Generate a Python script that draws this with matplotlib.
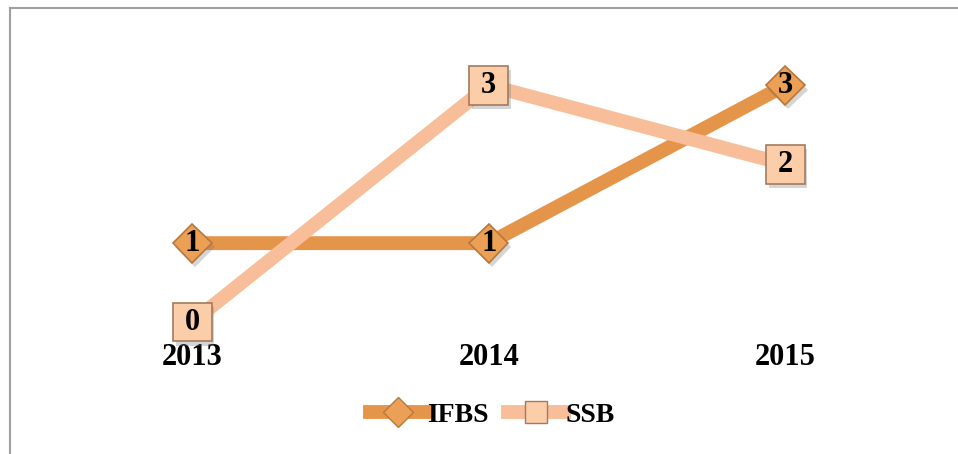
import matplotlib
matplotlib.use("Agg")
from matplotlib import pyplot as plt
from matplotlib.lines import Line2D
import matplotlib.patheffects as pe

years = ["2013", "2014", "2015"]
ifbs = [1, 1, 3]
ssb = [0, 3, 2]

c_ifbs = "#E5954A"
c_ssb = "#F8BE99"

plt.rcParams["font.family"] = ["Liberation Serif", "DejaVu Serif"]
plt.rcParams["font.weight"] = "bold"

fig = plt.figure(figsize=(9.58, 4.54), dpi=100)
ax = fig.add_axes([0.0459, 0.2385, 0.9285, 0.6256])

x = list(range(len(years)))
shadow = [pe.SimplePatchShadow(offset=(2, -3), alpha=0.3, shadow_rgbFace="#777777"), pe.Normal()]

ax.plot(x, ifbs, color=c_ifbs, lw=10, solid_capstyle="butt", zorder=2)
ax.plot(x, ssb, color=c_ssb, lw=10, solid_capstyle="butt", zorder=2)
ax.plot(x, ifbs, ls="none", marker="D", ms=20, mfc="#EBA055", mec="#B9773B", mew=1.2,
        zorder=3, path_effects=shadow)
ax.plot(x, ssb, ls="none", marker="s", ms=28, mfc="#FCCDA9", mec="#A27B5E", mew=1.2,
        zorder=3, path_effects=shadow)

for xi, v in zip(x, ifbs):
    ax.text(xi, v, str(v), ha="center", va="center", fontsize=22, fontweight="bold", zorder=4)
for xi, v in zip(x, ssb):
    ax.text(xi, v, str(v), ha="center", va="center", fontsize=22, fontweight="bold", zorder=4)

ax.set_xlim(-0.5, 2.5)
ax.set_ylim(-0.3, 3.3)
ax.set_xticks(x)
ax.set_xticklabels(years, fontsize=22, fontweight="bold")
ax.tick_params(axis="x", length=0, pad=-2)
ax.set_yticks([])
for s in ax.spines.values():
    s.set_visible(False)

handles = [
    Line2D([], [], color=c_ifbs, lw=10, marker="D", ms=15, mfc="#EBA055", mec="#B9773B"),
    Line2D([], [], color=c_ssb, lw=10, marker="s", ms=16, mfc="#FCCDA9", mec="#A27B5E"),
]
fig.legend(handles, ["IFBS", "SSB"], loc="center", bbox_to_anchor=(0.514, 0.086), ncol=2,
           frameon=False, fontsize=20, handlelength=2.0, handletextpad=0.05, columnspacing=0.7)

# outer frame (top and left edges visible)
fig.add_artist(Line2D([9.5 / 958, 1], [1 - 7.5 / 454, 1 - 7.5 / 454], color="#A0A0A0", lw=1.5,
                      transform=fig.transFigure))
fig.add_artist(Line2D([9.5 / 958, 9.5 / 958], [0, 1 - 7.5 / 454], color="#A0A0A0", lw=1.5,
                      transform=fig.transFigure))

fig.savefig("out.png", dpi=100)
